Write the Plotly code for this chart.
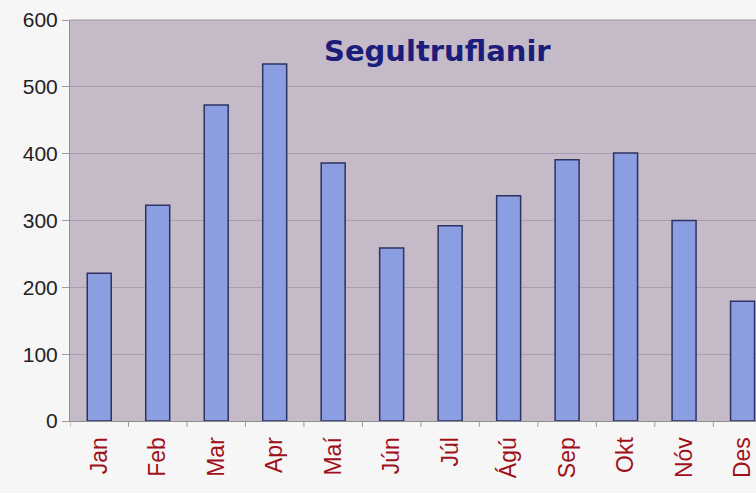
import plotly.graph_objects as go

months = ["Jan", "Feb", "Mar", "Apr", "Maí", "Jún", "Júl", "Ágú", "Sep", "Okt", "Nóv", "Des"]
values = [221, 323, 473, 534, 386, 259, 292, 337, 391, 401, 300, 179]
y_ticks = [0, 100, 200, 300, 400, 500, 600]

fig = go.Figure()
fig.add_trace(go.Bar(
    x=list(range(len(months))), y=values,
    marker=dict(color="#8C9EE2", line=dict(color="#2E3262", width=1.5)),
    width=0.41,
))

fig.update_layout(
    width=756, height=493,
    margin=dict(l=70, r=0, t=20, b=72),
    paper_bgcolor="#F6F6F6",
    plot_bgcolor="#C4BAC8",
    showlegend=False,
    font=dict(family="Arial, Liberation Sans, sans-serif"),
    xaxis=dict(
        range=[-0.5, 11.23],
        tickmode="array", tickvals=list(range(len(months))), ticktext=months,
        tickangle=-90, tickfont=dict(size=23, color="#A01018"),
        showgrid=False, zeroline=False,
        showline=True, linecolor="#8E8E8E", linewidth=1,
        ticks="", ticklabelstandoff=6,
    ),
    yaxis=dict(
        range=[0, 600], tickvals=y_ticks,
        tickfont=dict(size=21, color="#222222"),
        showgrid=True, gridcolor="#A89FAE", gridwidth=1,
        zeroline=False,
        showline=True, linecolor="#8E8E8E", linewidth=1, mirror=False,
        ticks="outside", ticklen=7, tickcolor="#9A9A9A",
    ),
    annotations=[dict(
        text="<b>Segultruflanir</b>", x=0.536, y=0.923, xref="paper", yref="paper",
        xanchor="center", yanchor="middle",
        showarrow=False, font=dict(size=29, color="#1C1C7A", family="DejaVu Sans, sans-serif"),
    )],
    shapes=[dict(type="line", xref="paper", yref="paper", x0=0, x1=1, y0=1, y1=1,
                 line=dict(color="#9A9A9A", width=1))] + [
        dict(type="line", xref="x", yref="paper", x0=i + 0.5, x1=i + 0.5, y0=0, y1=-0.015,
             line=dict(color="#9A9A9A", width=1)) for i in range(-1, len(months))
    ],
)

fig.write_html("out.html", config={"displayModeBar": False},
               post_script="document.body.style.margin='0';document.body.style.overflow='hidden';")
